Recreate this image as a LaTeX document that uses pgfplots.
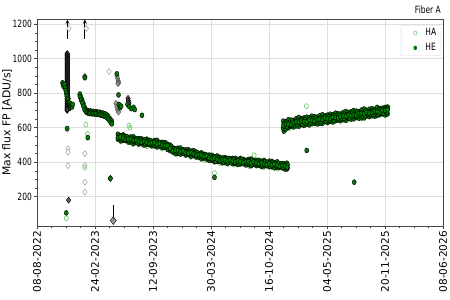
\documentclass[border=0pt]{standalone}
\usepackage{fontspec}
\setmainfont{DejaVu Sans}
\newfontfamily\narrowfont{DejaVu Sans}[FakeStretch=0.75]
\usepackage{pgfplots}
\usepackage{pgfplotstable}
\pgfplotsset{compat=1.18}
\usetikzlibrary{arrows.meta}
\definecolor{heGreen}{RGB}{0,128,0}
\definecolor{haGreen}{RGB}{110,200,110}
\definecolor{gridGray}{RGB}{222,222,222}
\definecolor{spine}{RGB}{68,68,68}

% days since 08-08-2022
\pgfplotstableread{
d a b e d2 f g
279 562 542 533 283 551 540
288 554 546 524 292 553 532
297 558 539 526 301 547 535
306 550 531 525 310 548 527
315 543 535 516 319 538 525
324 546 533 516 328 539 519
333 547 525 508 337 531 521
342 535 529 514 346 534 512
351 536 520 505 355 529 514
360 536 516 507 364 525 514
369 529 521 499 373 528 507
378 534 515 502 382 523 511
387 527 508 502 391 525 504
396 521 513 494 400 516 503
405 525 512 495 409 518 498
414 527 505 488 418 511 501
423 515 509 494 427 510 494
432 515 499 484 436 510 488
441 514 494 485 445 505 490
450 504 496 474 454 498 487
459 499 480 467 463 491 470
468 484 465 459 472 478 466
477 478 470 451 481 479 460
486 481 468 451 490 470 454
495 482 461 447 499 468 458
504 471 465 450 508 464 452
513 472 456 441 517 461 451
522 472 452 444 526 465 447
531 464 456 435 535 460 448
540 467 448 437 544 454 443
549 459 442 430 553 453 440
558 451 443 428 562 449 436
567 454 441 419 571 445 429
576 446 432 424 580 443 427
585 441 435 418 589 434 424
594 441 425 410 598 435 419
603 440 420 411 607 425 418
612 432 424 402 616 430 405
621 436 417 404 625 425 410
630 429 410 404 634 421 410
639 423 415 396 643 424 403
648 427 414 397 652 419 407
657 421 408 391 661 422 402
666 419 413 398 670 413 396
675 422 406 391 679 417 400
684 422 402 393 688 411 399
693 416 408 386 697 412 394
702 422 403 390 706 415 400
711 416 397 391 715 406 396
720 411 403 384 724 410 393
729 416 403 386 733 409 392
738 418 396 379 742 410 386
747 408 402 387 751 402 391
756 411 395 380 760 405 385
765 411 391 382 769 398 388
774 405 397 375 778 405 382
783 410 391 378 787 404 386
792 399 385 379 796 398 381
801 406 390 374 805 396 375
810 405 384 373 814 393 380
819 397 389 367 823 393 378
828 402 383 370 832 394 377
837 391 376 370 841 389 379
846 392 381 367 850 388 370
855 391 378 360 859 379 368
862 394 371 361 864 385 367
}\segfour

\pgfplotstableread{
d a b e d2 f g
849 638 612 597 853 623 608
858 636 622 594 862 631 606
867 646 621 602 871 631 615
876 644 619 607 880 638 613
885 643 629 604 889 634 617
894 652 633 610 898 641 617
903 659 631 608 907 639 625
912 651 639 618 916 646 620
921 657 635 614 925 646 627
930 661 635 620 934 646 631
939 658 644 616 943 653 628
948 667 642 623 952 652 636
957 663 638 626 961 657 632
966 661 647 622 970 652 635
975 669 650 627 979 658 634
984 675 647 624 988 655 641
993 668 656 635 997 663 637
1002 673 651 630 1006 662 643
1011 678 652 637 1015 663 648
1020 675 661 633 1024 670 645
1029 684 659 640 1033 669 653
1038 681 656 644 1042 675 650
1047 679 665 640 1051 670 653
1056 688 669 646 1060 677 653
1065 694 666 643 1069 674 660
1074 687 675 654 1078 680 656
1083 693 671 650 1087 684 662
1092 699 674 651 1096 682 667
1101 696 671 659 1105 689 664
1110 692 682 655 1114 688 674
1119 702 683 657 1123 690 668
1128 708 680 657 1132 696 668
1137 701 689 668 1141 694 678
1146 707 685 664 1150 693 676
1155 711 688 669 1159 699 676
1164 706 695 667 1168 696 684
1173 718 694 672 1177 702 679
1182 711 690 675 1186 706 684
1191 713 701 681 1195 706 684
1200 717 700 674 1204 711 689
1209 720 704 680 1207 708 690
}\segfive

\pgfplotstableread{
d a b
148 795 780
152 775 760
156 760 745
160 740 725
164 720 705
168 705 695
172 700 688
176 698 685
180 695 682
185 697 684
190 693 680
195 694 682
200 690 678
205 692 680
210 688 676
215 690 677
220 686 673
225 685 672
230 683 668
235 680 665
240 675 660
245 668 652
250 655 640
254 645 630
258 638 622
}\segtwo

\pgfplotsset{
  hestyle/.style={only marks, mark=*, mark size=2.5pt, mark options={xscale=0.8, fill=heGreen, draw=black, line width=0.45pt}},
}

\begin{document}
\begin{tikzpicture}
\path[use as bounding box] (-37pt,-74pt) rectangle (413pt,226pt);
\begin{axis}[
  at={(0pt,0pt)}, anchor=south west,
  scale only axis, width=406pt, height=207pt,
  xmin=0, xmax=1400, ymin=30, ymax=1230,
  clip=false,
  xtick={0,200,...,1400},
  xticklabels={08-08-2022,24-02-2023,12-09-2023,30-03-2024,16-10-2024,04-05-2025,20-11-2025,08-06-2026},
  ytick={200,400,...,1200},
  minor x tick num=3, minor y tick num=3,
  xtick pos=bottom, ytick pos=left, tick align=outside,
  major tick length=3pt, minor tick length=1.8pt,
  every tick/.style={spine, line width=0.5pt},
  xmajorgrids, ymajorgrids,
  major grid style={gridGray, line width=0.5pt},
  axis line style={spine, line width=0.6pt},
  /pgf/number format/assume math mode=true,
  /pgf/number format/1000 sep={},
  yticklabel style={font=\narrowfont, inner sep=2pt},
  xticklabel style={rotate=90, anchor=east, inner sep=2pt, font=\fontsize{10.5}{12}\selectfont},
  ylabel={Max flux FP [ADU/s]},
  ylabel style={at={(axis description cs:-0.074,0.5)}, anchor=center, font=\fontsize{10.8}{12}\selectfont},
  legend image code/.code={\path (0cm,0cm) (0.7cm,0cm); \draw[#1, mark size=2pt] plot coordinates {(0.42cm,0cm)};},
  legend style={at={(axis description cs:0.9936,0.971)}, anchor=north east, draw=black!15, rounded corners=2pt, font=\narrowfont, inner xsep=2pt, inner ysep=1.5pt, row sep=2pt},
  legend cell align=left,
]
% open diamonds
\addplot[only marks, mark=diamond*, mark size=3pt, mark options={draw=gray!75, fill=white, line width=0.5pt}, forget plot] coordinates {
(110,1175) (170,1175) (104,705) (104,592) (107,478) (107,458) (107,380) (165,450) (165,381) (165,284) (165,226) (248,925) (165,900)
};
% arrows (clipped points)
\addplot[black, line width=1.1pt, -{Stealth[length=4pt,width=4pt]}, forget plot] coordinates {(105,1115) (105,1226)};
\addplot[black, line width=1.1pt, -{Stealth[length=4pt,width=4pt]}, forget plot] coordinates {(165,1115) (165,1226)};
\addplot[black, line width=0.9pt, forget plot] coordinates {(263,62) (263,150)};
% gray filled diamonds
\addplot[only marks, mark=diamond*, mark size=3pt, mark options={draw=black, fill=black!70, fill opacity=0.85, line width=0.5pt}, forget plot] coordinates {
(104,1030) (104,1020) (104,1010) (104,1000) (104,990) (104,980) (104,970) (104,960) (104,950) (104,940)
(104,930) (104,920) (104,910) (104,900) (104,890) (104,880) (104,870) (104,860) (104,850) (104,840)
(104,830) (104,820) (104,810) (104,800) (104,790) (104,780) (104,770) (104,760) (104,750) (104,740)
(104,730) (104,720) (104,710) (104,700)
(105,1025) (105,1015) (105,1005) (105,995) (105,985) (105,975) (105,965) (105,955) (105,945) (105,935)
(105,925) (105,915) (105,905) (105,895) (105,885) (105,875) (105,865) (105,855) (105,845) (105,835)
(105,825) (105,815) (105,805) (105,795) (105,785) (105,775) (105,765) (105,755) (105,745) (105,735)
(105,725) (105,715) (105,705)
(108,770) (110,745) (112,728) (114,715)
(109,180) (253,306)
(148,790) (151,770) (165,893)
(314,770) (315,755) (317,742)
};
\addplot[only marks, mark=diamond*, mark size=3pt, mark options={draw=black!70, fill=gray, fill opacity=0.7, line width=0.4pt}, forget plot] coordinates {
(276,900) (278,885) (280,870) (282,860) (279,855)
(272,742) (275,722) (278,705) (281,690) (285,730)
};
\addplot[only marks, mark=diamond*, mark size=4pt, mark options={draw=black, fill=gray, fill opacity=0.8, line width=0.4pt}, forget plot] coordinates {(263,62)};
% HA band (under HE)
\addplot[only marks, mark=o, mark size=2.5pt, mark options={xscale=0.8, draw=haGreen, line width=0.6pt}, forget plot] coordinates {
(290,520) (330,505) (380,492) (430,478) (480,445) (530,430) (580,412) (630,395) (680,385) (730,378) (780,370) (830,362)
(870,596) (920,612) (970,622) (1020,634) (1070,645) (1120,655) (1170,668) (1205,675)
};
% HA outliers (legend)
\addplot[only marks, mark=o, mark size=2.5pt, mark options={xscale=0.8, draw=haGreen, line width=0.6pt}, legend image post style={mark options={xscale=0.8, draw=haGreen, line width=0.5pt}}] coordinates {
(101,75) (168,618) (174,565) (165,368) (317,612) (320,600) (612,337) (749,440) (929,725)
};
\addlegendentry{HA}
% HE
\addplot[hestyle, legend image post style={mark options={xscale=0.8, fill=heGreen, draw=heGreen!70!black, line width=0.3pt}}] coordinates {
(88,860) (90,848) (92,838) (95,852) (97,830) (99,815) (101,800) (103,785) (104,770) (106,760)
(107,748) (109,738) (111,745) (113,730) (115,725) (117,738) (119,728) (121,720) (123,735)
(104,595) (101,106) (165,890) (175,542) (253,306) (275,912) (281,790) (282,735) (286,715) (290,725)
(312,735) (318,722) (325,710) (333,718) (337,705) (362,672) (930,468) (1094,284) (612,312) (851,580) (856,588)
};
\addlegendentry{HE}
\addplot[hestyle, forget plot] table[x=d, y=a] {\segtwo};
\addplot[hestyle, forget plot] table[x=d, y=b] {\segtwo};
\addplot[hestyle, forget plot] table[x=d, y=a] {\segfour};
\addplot[hestyle, forget plot] table[x=d, y=e] {\segfour};
\addplot[hestyle, forget plot] table[x=d2, y=f] {\segfour};
\addplot[hestyle, forget plot] table[x=d2, y=g] {\segfour};
\addplot[hestyle, forget plot] table[x=d, y=b] {\segfour};
\addplot[hestyle, forget plot] table[x=d, y=a] {\segfive};
\addplot[hestyle, forget plot] table[x=d, y=e] {\segfive};
\addplot[hestyle, forget plot] table[x=d2, y=f] {\segfive};
\addplot[hestyle, forget plot] table[x=d2, y=g] {\segfive};
\addplot[hestyle, forget plot] table[x=d, y=b] {\segfive};
\node[anchor=base east, font=\narrowfont, inner sep=0pt] at (rel axis cs:1,1) [xshift=-2pt, yshift=5.5pt] {Fiber A};
\end{axis}
\end{tikzpicture}
\end{document}
